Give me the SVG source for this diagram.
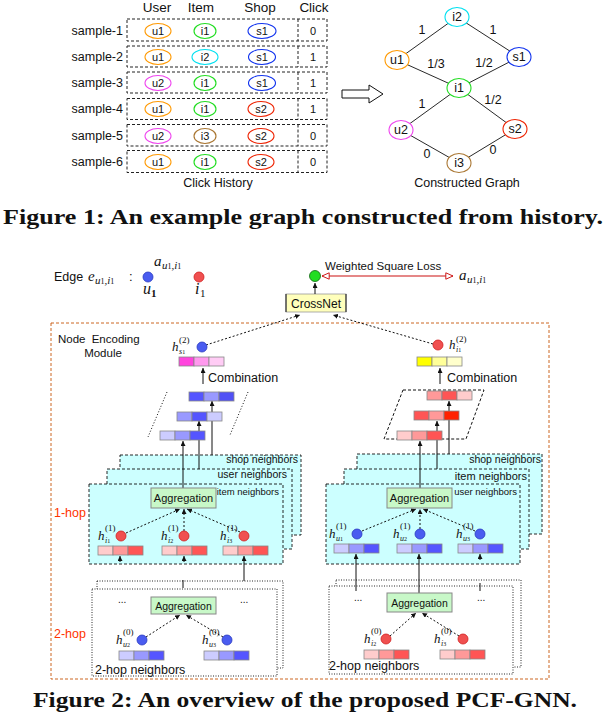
<svg xmlns="http://www.w3.org/2000/svg" width="606" height="716" viewBox="0 0 606 716">
<style>
.s{font-family:"Liberation Sans",Arial,sans-serif;fill:#111}
.t12{font-size:12.5px}
.t11{font-size:11px}
.c{text-anchor:middle}
.e{text-anchor:end}
.mi{font-family:"Liberation Serif","Times New Roman",serif;font-style:italic;fill:#111}
.sup{font-family:"Liberation Serif",serif;font-size:9px;fill:#111}
.sub{font-family:"Liberation Serif",serif;font-style:italic;font-size:8px;fill:#111}
.cap{font-family:"Liberation Serif","Times New Roman",serif;font-weight:bold;font-size:22px;fill:#111}
.row{fill:none;stroke:#222;stroke-width:1;stroke-dasharray:3,2}
.el{fill:#fff;stroke-width:1.1}
.gl{stroke:#111;stroke-width:0.9}
.cy{fill:#ccffff;stroke:#111;stroke-width:0.9;stroke-dasharray:3,2}
.hop{fill:#fff;stroke:#111;stroke-width:0.9;stroke-dasharray:1,1.5}
.agg{fill:#c8f8c8;stroke:#888;stroke-width:1}
.bar rect{stroke:#888;stroke-width:0.8}
.bd{fill:#4a5cf0;stroke:#2a3ac0;stroke-width:0.8}
.rd{fill:#f05050;stroke:#d02020;stroke-width:0.8}
.ln{stroke:#111;stroke-width:1;fill:none}
.dl{stroke:#111;stroke-width:1;fill:none;stroke-dasharray:2,2}
.red{fill:#ff3300}
</style>
<defs>
<marker id="ah" viewBox="0 0 6 6" refX="6" refY="3" markerWidth="5" markerHeight="5" markerUnits="userSpaceOnUse" orient="auto"><path d="M0,0 L6,3 L0,6 z" fill="#111"/></marker>
<marker id="hr" viewBox="0 0 10 10" refX="10" refY="5" markerWidth="8" markerHeight="8" markerUnits="userSpaceOnUse" orient="auto-start-reverse"><path d="M1,1 L10,5 L1,9 z" fill="#fff" stroke="#cc1111" stroke-width="1.2"/></marker>
</defs>

<!-- Figure 1: table -->
<g id="table">
<text class="s c" x="157" y="12" font-size="13.5">User</text>
<text class="s c" x="201" y="12" font-size="13.5">Item</text>
<text class="s c" x="260" y="12" font-size="13.5">Shop</text>
<text class="s c" x="314" y="12" font-size="13.5">Click</text>
<g id="row1"><rect class="row" x="127" y="19" width="200" height="22"/><line class="row" x1="298" y1="19" x2="298" y2="41"/>
<text class="s t12 e" x="123" y="35">sample-1</text>
<ellipse class="el" cx="158" cy="31" rx="13" ry="7.5" stroke="#ff9900"/><text class="s t11 c" x="158" y="35">u1</text>
<ellipse class="el" cx="205" cy="31" rx="11" ry="7.5" stroke="#22dd22"/><text class="s t11 c" x="205" y="35">i1</text>
<ellipse class="el" cx="262" cy="31" rx="14" ry="7.5" stroke="#1133ee"/><text class="s t11 c" x="262" y="35">s1</text>
<text class="s t11 c" x="313" y="35">0</text></g>
<g id="row2"><rect class="row" x="127" y="46" width="200" height="21"/><line class="row" x1="298" y1="46" x2="298" y2="67"/>
<text class="s t12 e" x="123" y="61">sample-2</text>
<ellipse class="el" cx="158" cy="57" rx="13" ry="7.5" stroke="#ff9900"/><text class="s t11 c" x="158" y="61">u1</text>
<ellipse class="el" cx="205" cy="57" rx="13" ry="7.5" stroke="#00e0f0"/><text class="s t11 c" x="205" y="61">i2</text>
<ellipse class="el" cx="262" cy="57" rx="13.5" ry="7.5" stroke="#1133ee"/><text class="s t11 c" x="262" y="61">s1</text>
<text class="s t11 c" x="313" y="61">1</text></g>
<g id="row3"><rect class="row" x="127" y="72" width="200" height="21"/><line class="row" x1="298" y1="72" x2="298" y2="93"/>
<text class="s t12 e" x="123" y="87">sample-3</text>
<ellipse class="el" cx="158" cy="83" rx="13" ry="7.5" stroke="#ee44ee"/><text class="s t11 c" x="158" y="87">u2</text>
<ellipse class="el" cx="205" cy="83" rx="11" ry="7.5" stroke="#22dd22"/><text class="s t11 c" x="205" y="87">i1</text>
<ellipse class="el" cx="262" cy="83" rx="13.5" ry="7.5" stroke="#1133ee"/><text class="s t11 c" x="262" y="87">s1</text>
<text class="s t11 c" x="313" y="87">1</text></g>
<g id="row4"><rect class="row" x="127" y="98.5" width="200" height="21"/><line class="row" x1="298" y1="98.5" x2="298" y2="119.5"/>
<text class="s t12 e" x="123" y="113">sample-4</text>
<ellipse class="el" cx="158" cy="109" rx="13" ry="7.5" stroke="#ff9900"/><text class="s t11 c" x="158" y="113">u1</text>
<ellipse class="el" cx="205" cy="109" rx="11" ry="7.5" stroke="#22dd22"/><text class="s t11 c" x="205" y="113">i1</text>
<ellipse class="el" cx="261" cy="109" rx="13" ry="7.5" stroke="#ee2200"/><text class="s t11 c" x="261" y="113">s2</text>
<text class="s t11 c" x="313" y="113">1</text></g>
<g id="row5"><rect class="row" x="127" y="124.5" width="200" height="21.5"/><line class="row" x1="298" y1="124.5" x2="298" y2="146"/>
<text class="s t12 e" x="123" y="140">sample-5</text>
<ellipse class="el" cx="158" cy="136" rx="13" ry="7.5" stroke="#ee44ee"/><text class="s t11 c" x="158" y="140">u2</text>
<ellipse class="el" cx="205" cy="136" rx="11" ry="7.5" stroke="#aa7733"/><text class="s t11 c" x="205" y="140">i3</text>
<ellipse class="el" cx="261" cy="136" rx="13" ry="7.5" stroke="#ee2200"/><text class="s t11 c" x="261" y="140">s2</text>
<text class="s t11 c" x="313" y="140">0</text></g>
<g id="row6"><rect class="row" x="127" y="150.5" width="200" height="22"/><line class="row" x1="298" y1="150.5" x2="298" y2="172.5"/>
<text class="s t12 e" x="123" y="166">sample-6</text>
<ellipse class="el" cx="158" cy="162" rx="13" ry="7.5" stroke="#ff9900"/><text class="s t11 c" x="158" y="166">u1</text>
<ellipse class="el" cx="205" cy="162" rx="11" ry="7.5" stroke="#22dd22"/><text class="s t11 c" x="205" y="166">i1</text>
<ellipse class="el" cx="261" cy="162" rx="13" ry="7.5" stroke="#ee2200"/><text class="s t11 c" x="261" y="166">s2</text>
<text class="s t11 c" x="313" y="166">0</text></g>
<text class="s c" x="218" y="187" font-size="12.5">Click History</text>
</g>

<g id="bigarrow"><polygon points="342,90 369,90 369,85 383,94 369,103 369,98 342,98" fill="#fff" stroke="#111" stroke-width="1"/></g>

<!-- Figure 1: graph -->
<g id="graph-edges">
<line class="gl" x1="457" y1="17" x2="397" y2="60"/>
<line class="gl" x1="457" y1="17" x2="519" y2="57"/>
<line class="gl" x1="397" y1="60" x2="459" y2="88"/>
<line class="gl" x1="519" y1="57" x2="459" y2="88"/>
<line class="gl" x1="459" y1="88" x2="401" y2="130"/>
<line class="gl" x1="459" y1="88" x2="515" y2="129"/>
<line class="gl" x1="401" y1="130" x2="459" y2="163"/>
<line class="gl" x1="515" y1="129" x2="459" y2="163"/>
<text class="s t12 c" x="422" y="34">1</text>
<text class="s t12 c" x="493" y="34">1</text>
<text class="s t12 c" x="436" y="68">1/3</text>
<text class="s t12 c" x="484" y="67">1/2</text>
<text class="s t12 c" x="422" y="108">1</text>
<text class="s t12 c" x="493" y="104">1/2</text>
<text class="s t12 c" x="427" y="158">0</text>
<text class="s t12 c" x="493" y="154">0</text>
</g>
<g id="g-i2"><ellipse class="el" cx="457" cy="17" rx="12" ry="9.5" stroke="#00e0f0"/><text class="s t12 c" x="457" y="21">i2</text></g>
<g id="g-u1"><ellipse class="el" cx="397" cy="60" rx="12" ry="9.5" stroke="#ff9900"/><text class="s t12 c" x="397" y="64">u1</text></g>
<g id="g-s1"><ellipse class="el" cx="519" cy="57" rx="12" ry="9.5" stroke="#1133ee"/><text class="s t12 c" x="519" y="61">s1</text></g>
<g id="g-i1"><ellipse class="el" cx="459" cy="88" rx="12" ry="9.5" stroke="#22dd22"/><text class="s t12 c" x="459" y="92">i1</text></g>
<g id="g-u2"><ellipse class="el" cx="401" cy="130" rx="12" ry="9.5" stroke="#ee44ee"/><text class="s t12 c" x="401" y="134">u2</text></g>
<g id="g-s2"><ellipse class="el" cx="515" cy="129" rx="12" ry="9.5" stroke="#ee2200"/><text class="s t12 c" x="515" y="133">s2</text></g>
<g id="g-i3"><ellipse class="el" cx="459" cy="163" rx="12" ry="9.5" stroke="#aa7733"/><text class="s t12 c" x="459" y="167">i3</text></g>
<text class="s c" x="467" y="187" font-size="12.5">Constructed Graph</text>

<text class="cap" x="3" y="224" textLength="600" lengthAdjust="spacingAndGlyphs">Figure 1: An example graph constructed from history.</text>

<!-- Figure 2 -->
<g id="edge-legend">
<text class="s" x="54" y="281" font-size="12.5">Edge</text>
<text class="mi" x="88" y="281" font-size="15">e</text><text class="sub" x="95" y="284" style="font-size:11px">u<tspan font-style="normal" font-size="8">1</tspan>,i<tspan font-style="normal" font-size="8">1</tspan></text><text class="s" x="129" y="281" font-size="13">:</text>
<circle class="bd" cx="148" cy="277" r="5"/>
<circle class="rd" cx="199" cy="277" r="5"/>
<text class="mi" x="154" y="266" font-size="15">a</text><text class="sub" x="162" y="269" style="font-size:11px">u<tspan font-style="normal" font-size="8">1</tspan>,i<tspan font-style="normal" font-size="8">1</tspan></text>
<text class="mi" x="143" y="294" font-size="16">u</text><text class="sup" x="151" y="297" style="font-size:11px;font-weight:bold">1</text>
<text class="mi" x="195" y="294" font-size="16">i</text><text class="sup" x="200" y="297" style="font-size:11px">1</text>
</g>

<g id="loss">
<circle cx="315" cy="276" r="5.5" fill="#22dd22" stroke="#116611" stroke-width="0.8"/>
<line x1="322" y1="276" x2="453" y2="276" stroke="#cc1111" stroke-width="1.2" marker-start="url(#hr)" marker-end="url(#hr)"/>
<text class="s" x="325" y="270" font-size="11.5">Weighted Square Loss</text>
<text class="mi" x="459" y="280" font-size="15">a</text><text class="sub" x="467" y="283" style="font-size:11px">u<tspan font-style="normal" font-size="8">1</tspan>,i<tspan font-style="normal" font-size="8">1</tspan></text>
</g>

<g id="crossnet">
<rect x="286" y="294" width="60" height="18" fill="#ffffbb" stroke="#999" stroke-width="0.8"/>
<line x1="286" y1="294" x2="286" y2="312" stroke="#333" stroke-width="1.2"/>
<line x1="346" y1="294" x2="346" y2="312" stroke="#333" stroke-width="1.2"/>
<text class="s c" x="316" y="307.5" font-size="12">CrossNet</text>
</g>

<g id="module-frame">
<rect x="51" y="323" width="498" height="356" fill="none" stroke="#cc6622" stroke-width="1" stroke-dasharray="3,2"/>
<text class="s" x="58" y="343" font-size="11.5" word-spacing="3">Node Encoding</text>
<text class="s c" x="103" y="357" font-size="11.5">Module</text>
<text class="s red" x="54" y="517" font-size="12.5">1-hop</text>
<text class="s red" x="54" y="638" font-size="12.5">2-hop</text>
</g>

<!-- left: shop encoding -->
<g id="left-1hop">
<rect class="cy" x="120" y="455" width="181" height="80"/>
<rect class="cy" x="107" y="469" width="185" height="80"/>
<rect class="cy" x="89" y="484" width="194" height="80"/>
<text class="s e" x="298" y="463" font-size="10.5">shop neighbors</text>
<text class="s e" x="287" y="478" font-size="10.5">user neighbors</text>
<text class="s e" x="279" y="495" font-size="9.5" fill="#444">item neighbors</text>
</g>
<g id="right-1hop">
<rect class="cy" x="357" y="454" width="185" height="80"/>
<rect class="cy" x="344" y="469" width="185" height="80"/>
<rect class="cy" x="326" y="484" width="194" height="80"/>
<text class="s e" x="541" y="463" font-size="10.5">shop neighbors</text>
<text class="s e" x="527" y="480" font-size="11">item neighbors</text>
<text class="s e" x="517" y="495" font-size="9.5" fill="#444">user neighbors</text>
</g>
<g id="left-2hop">
<rect class="hop" x="97" y="581" width="186" height="87"/>
<rect class="hop" x="92" y="589" width="185" height="87"/>
<text class="s" x="118" y="603" font-size="10">...</text>
<text class="s" x="240" y="603" font-size="10">...</text>
<text class="s" x="95" y="674" font-size="12.5">2-hop neighbors</text>
</g>
<g id="right-2hop">
<rect class="hop" x="336" y="580" width="185" height="87"/>
<rect class="hop" x="329" y="586" width="184" height="88"/>
<text class="s" x="354" y="601" font-size="10">...</text>
<text class="s" x="477" y="601" font-size="10">...</text>
<text class="s" x="329" y="670" font-size="12.5">2-hop neighbors</text>
</g>

<g id="connectors">
<line class="dl" x1="206" y1="345" x2="300" y2="315" marker-end="url(#ah)"/>
<line class="dl" x1="433" y1="344" x2="333" y2="315" marker-end="url(#ah)"/>
<line class="ln" x1="315" y1="294" x2="315" y2="283" marker-end="url(#ah)"/>
<line class="ln" x1="203" y1="384" x2="203" y2="368" marker-end="url(#ah)" stroke-width="1.5"/>
<line class="ln" x1="440" y1="384" x2="440" y2="368" marker-end="url(#ah)" stroke-width="1.5"/>
<!-- left parallelogram sides -->
<line class="ln" x1="167" y1="392" x2="148" y2="437" stroke-dasharray="1,2"/>
<line class="ln" x1="248" y1="392" x2="230" y2="435" stroke-dasharray="1,2"/>
<polygon points="403,390 484,390 466,439 384,439" fill="none" stroke="#111" stroke-width="1" stroke-dasharray="3,2"/>
<!-- left stack to combination bars -->
<line class="ln" x1="212" y1="455" x2="212" y2="401" marker-end="url(#ah)"/>
<line class="ln" x1="199" y1="469" x2="199" y2="421" marker-end="url(#ah)"/>
<line class="ln" x1="183" y1="488" x2="183" y2="441" marker-end="url(#ah)"/>
<!-- right stack to combination bars -->
<line class="ln" x1="449" y1="454" x2="449" y2="401" marker-end="url(#ah)"/>
<line class="ln" x1="437" y1="469" x2="437" y2="421" marker-end="url(#ah)"/>
<line class="ln" x1="420" y1="488" x2="420" y2="441" marker-end="url(#ah)"/>
<!-- 1-hop neighbors to aggregation -->
<line class="dl" x1="126" y1="533" x2="180" y2="509" marker-end="url(#ah)"/>
<line class="dl" x1="184" y1="531" x2="184" y2="509" marker-end="url(#ah)"/>
<line class="dl" x1="240" y1="532" x2="187" y2="509" marker-end="url(#ah)"/>
<line class="dl" x1="362" y1="531" x2="416" y2="509" marker-end="url(#ah)"/>
<line class="dl" x1="420" y1="529" x2="420" y2="509" marker-end="url(#ah)"/>
<line class="dl" x1="475" y1="531" x2="423" y2="509" marker-end="url(#ah)"/>
<!-- 2-hop to 1-hop bars -->
<line class="ln" x1="120" y1="562" x2="120" y2="556" marker-end="url(#ah)"/>
<line class="ln" x1="184" y1="562" x2="184" y2="556" marker-end="url(#ah)"/>
<line class="ln" x1="244" y1="581" x2="244" y2="556" marker-end="url(#ah)"/>
<line class="ln" x1="183" y1="580" x2="183" y2="588"/>
<line class="ln" x1="356" y1="591" x2="356" y2="554" marker-end="url(#ah)"/>
<line class="ln" x1="419" y1="593" x2="419" y2="554" marker-end="url(#ah)"/>
<line class="ln" x1="480" y1="560" x2="480" y2="554" marker-end="url(#ah)"/>
<line class="ln" x1="480" y1="583" x2="480" y2="591"/>
<!-- 2-hop neighbors to aggregation -->
<line class="dl" x1="146" y1="637" x2="180" y2="615" marker-end="url(#ah)"/>
<line class="dl" x1="223" y1="637" x2="186" y2="615" marker-end="url(#ah)"/>
<line class="dl" x1="390" y1="636" x2="416" y2="613" marker-end="url(#ah)"/>
<line class="dl" x1="459" y1="636" x2="422" y2="613" marker-end="url(#ah)"/>
</g>

<!-- encoders -->
<g id="shop-node">
<circle class="bd" cx="202" cy="347" r="5"/>
<text class="mi" x="172" y="351" font-size="13">h</text><text class="sup" x="179" y="343">(2)</text><text class="sub" x="179" y="354">s<tspan font-style="normal" font-size="6">1</tspan></text>
<g class="bar"><rect x="179" y="357" width="15" height="9" fill="#ff44dd"/><rect x="194" y="357" width="15" height="9" fill="#ff99ee"/><rect x="209" y="357" width="15" height="9" fill="#ffccf5"/></g>
<text class="s" x="208" y="382" font-size="12.5">Combination</text>
</g>
<g id="item-node">
<circle class="rd" cx="438" cy="345" r="5"/>
<text class="mi" x="449" y="349" font-size="13">h</text><text class="sup" x="456" y="342">(2)</text><text class="sub" x="456" y="352">i<tspan font-style="normal" font-size="6">1</tspan></text>
<g class="bar"><rect x="417" y="357" width="15" height="9" fill="#ffff00"/><rect x="432" y="357" width="15" height="9" fill="#ffff99"/><rect x="447" y="357" width="15" height="9" fill="#ffffcc"/></g>
<text class="s" x="447" y="382" font-size="12.5">Combination</text>
</g>
<g id="left-comb-bars" class="bar">
<rect x="189" y="392" width="15" height="9" fill="#5555ff"/><rect x="204" y="392" width="15" height="9" fill="#9999ff"/><rect x="219" y="392" width="15" height="9" fill="#5050f5"/>
<rect x="177" y="412" width="15" height="9" fill="#9999ff"/><rect x="192" y="412" width="15" height="9" fill="#5555ff"/><rect x="207" y="412" width="15" height="9" fill="#ccccff"/>
<rect x="160" y="431" width="15" height="9" fill="#ccccff"/><rect x="175" y="431" width="15" height="9" fill="#9999ff"/><rect x="190" y="431" width="15" height="9" fill="#5555ff"/>
</g>
<g id="right-comb-bars" class="bar">
<rect x="427" y="391" width="15" height="9" fill="#ff9999"/><rect x="442" y="391" width="15" height="9" fill="#ff5555"/><rect x="457" y="391" width="15" height="9" fill="#ffcccc"/>
<rect x="414" y="411" width="15" height="9" fill="#ff5555"/><rect x="429" y="411" width="15" height="9" fill="#ff9999"/><rect x="444" y="411" width="15" height="9" fill="#ff2200"/>
<rect x="397" y="431" width="15" height="9" fill="#ffcccc"/><rect x="412" y="431" width="15" height="9" fill="#ff9999"/><rect x="427" y="431" width="15" height="9" fill="#ff5555"/>
</g>

<g id="left-agg1"><rect class="agg" x="151" y="488" width="65" height="20"/><text class="s c" x="183.5" y="502" font-size="11">Aggregation</text></g>
<g id="right-agg1"><rect class="agg" x="387" y="488" width="65" height="20"/><text class="s c" x="419.5" y="502" font-size="11">Aggregation</text></g>
<g id="left-agg2"><rect class="agg" x="151" y="597" width="65" height="17"/><text class="s c" x="183.5" y="609.5" font-size="10.5">Aggregation</text></g>
<g id="right-agg2"><rect class="agg" x="387" y="593" width="65" height="19"/><text class="s c" x="419.5" y="606.5" font-size="10.5">Aggregation</text></g>

<g id="n-i1">
<circle class="rd" cx="121" cy="536" r="5"/>
<text class="mi" x="98" y="540" font-size="13">h</text><text class="sup" x="105" y="531">(1)</text><text class="sub" x="105" y="543">i<tspan font-style="normal" font-size="6">1</tspan></text>
<g class="bar"><rect x="98" y="546" width="15" height="9" fill="#ffcccc"/><rect x="113" y="546" width="15" height="9" fill="#ff9999"/><rect x="128" y="546" width="15" height="9" fill="#ff5555"/></g>
</g>
<g id="n-i2">
<circle class="rd" cx="184" cy="536" r="5"/>
<text class="mi" x="161" y="540" font-size="13">h</text><text class="sup" x="168" y="531">(1)</text><text class="sub" x="168" y="543">i<tspan font-style="normal" font-size="6">2</tspan></text>
<g class="bar"><rect x="162" y="546" width="15" height="9" fill="#ffcccc"/><rect x="177" y="546" width="15" height="9" fill="#ff9999"/><rect x="192" y="546" width="15" height="9" fill="#ff5555"/></g>
</g>
<g id="n-i3">
<circle class="rd" cx="244" cy="536" r="5"/>
<text class="mi" x="220" y="540" font-size="13">h</text><text class="sup" x="227" y="531">(1)</text><text class="sub" x="227" y="543">i<tspan font-style="normal" font-size="6">3</tspan></text>
<g class="bar"><rect x="223" y="546" width="15" height="9" fill="#ffcccc"/><rect x="238" y="546" width="15" height="9" fill="#ff9999"/><rect x="253" y="546" width="15" height="9" fill="#ff5555"/></g>
</g>
<g id="n-u1">
<circle class="bd" cx="357" cy="534" r="5"/>
<text class="mi" x="329" y="538" font-size="13">h</text><text class="sup" x="336" y="529">(1)</text><text class="sub" x="336" y="541">u<tspan font-style="normal" font-size="6">1</tspan></text>
<g class="bar"><rect x="334" y="544" width="15" height="9" fill="#ccccff"/><rect x="349" y="544" width="15" height="9" fill="#9999ff"/><rect x="364" y="544" width="15" height="9" fill="#5555ff"/></g>
</g>
<g id="n-u2">
<circle class="bd" cx="420" cy="534" r="5"/>
<text class="mi" x="393" y="538" font-size="13">h</text><text class="sup" x="400" y="529">(1)</text><text class="sub" x="400" y="541">u<tspan font-style="normal" font-size="6">2</tspan></text>
<g class="bar"><rect x="397" y="544" width="15" height="9" fill="#ccccff"/><rect x="412" y="544" width="15" height="9" fill="#9999ff"/><rect x="427" y="544" width="15" height="9" fill="#5555ff"/></g>
</g>
<g id="n-u3">
<circle class="bd" cx="480" cy="534" r="5"/>
<text class="mi" x="456" y="538" font-size="13">h</text><text class="sup" x="463" y="529">(1)</text><text class="sub" x="463" y="541">u<tspan font-style="normal" font-size="6">3</tspan></text>
<g class="bar"><rect x="458" y="544" width="15" height="9" fill="#ccccff"/><rect x="473" y="544" width="15" height="9" fill="#9999ff"/><rect x="488" y="544" width="15" height="9" fill="#5555ff"/></g>
</g>
<g id="n2-u2">
<circle class="bd" cx="142" cy="640" r="5"/>
<text class="mi" x="116" y="644" font-size="13">h</text><text class="sup" x="123" y="635">(0)</text><text class="sub" x="123" y="647">u<tspan font-style="normal" font-size="6">2</tspan></text>
<g class="bar"><rect x="119" y="651" width="15" height="9" fill="#ccccff"/><rect x="134" y="651" width="15" height="9" fill="#9999ff"/><rect x="149" y="651" width="15" height="9" fill="#5555ff"/></g>
</g>
<g id="n2-u3">
<circle class="bd" cx="227" cy="640" r="5"/>
<text class="mi" x="202" y="644" font-size="13">h</text><text class="sup" x="209" y="635">(0)</text><text class="sub" x="209" y="647">u<tspan font-style="normal" font-size="6">3</tspan></text>
<g class="bar"><rect x="204" y="651" width="15" height="9" fill="#ccccff"/><rect x="219" y="651" width="15" height="9" fill="#9999ff"/><rect x="234" y="651" width="15" height="9" fill="#5555ff"/></g>
</g>
<g id="n2-i2">
<circle class="rd" cx="386" cy="639" r="5"/>
<text class="mi" x="364" y="643" font-size="13">h</text><text class="sup" x="371" y="634">(0)</text><text class="sub" x="371" y="646">i<tspan font-style="normal" font-size="6">2</tspan></text>
<g class="bar"><rect x="364" y="650" width="15" height="9" fill="#ffcccc"/><rect x="379" y="650" width="15" height="9" fill="#ff9999"/><rect x="394" y="650" width="15" height="9" fill="#ff5555"/></g>
</g>
<g id="n2-i3">
<circle class="rd" cx="463" cy="639" r="5"/>
<text class="mi" x="434" y="643" font-size="13">h</text><text class="sup" x="441" y="634">(0)</text><text class="sub" x="441" y="646">i<tspan font-style="normal" font-size="6">3</tspan></text>
<g class="bar"><rect x="440" y="650" width="15" height="9" fill="#ffcccc"/><rect x="455" y="650" width="15" height="9" fill="#ff9999"/><rect x="470" y="650" width="15" height="9" fill="#ff5555"/></g>
</g>

<text class="cap" x="33" y="707" textLength="544" lengthAdjust="spacingAndGlyphs">Figure 2: An overview of the proposed PCF-GNN.</text>
</svg>
